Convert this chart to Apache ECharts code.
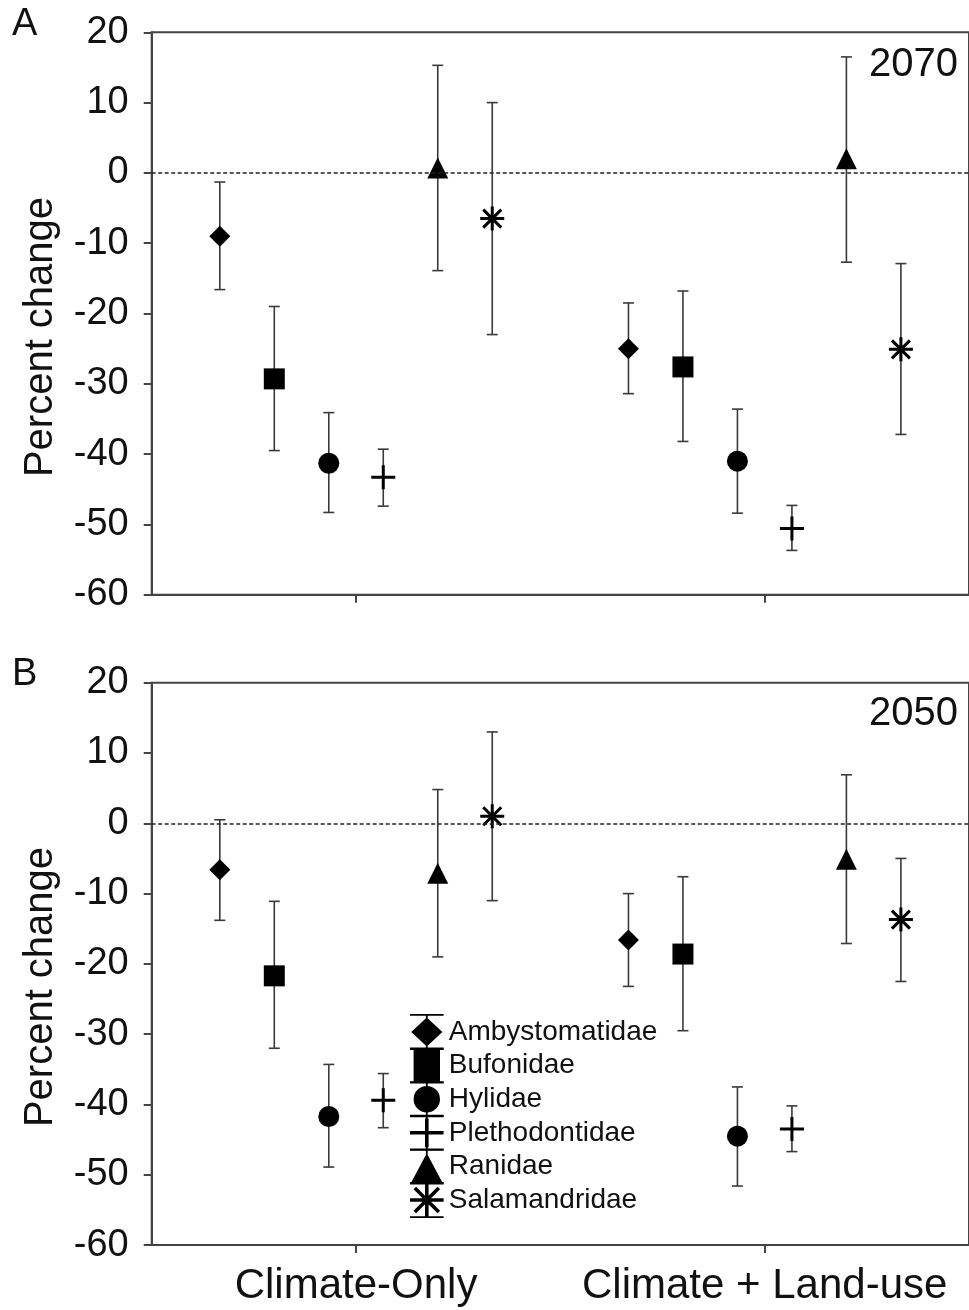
<!DOCTYPE html>
<html>
<head>
<meta charset="utf-8">
<script src="https://cdn.jsdelivr.net/npm/echarts@6/dist/echarts.min.js"></script>
<style>
  html, body { margin: 0; padding: 0; background: #fff; }
  #chart { width: 969px; height: 1310px; }
</style>
</head>
<body>
<div id="chart"></div>
<script>
// 科目与情景
const families = ['Ambystomatidae', 'Bufonidae', 'Hylidae', 'Plethodontidae', 'Ranidae', 'Salamandridae'];
const scenarios = ['Climate-Only', 'Climate + Land-use'];
const yTicks = [-60, -50, -40, -30, -20, -10, 0, 10, 20];

// 2070: [Climate-Only, Climate + Land-use] per family
const mean2070 = [[-9.0, -25.0], [-29.3, -27.6], [-41.3, -41.0], [-43.3, -50.6], [0.7, 2.0], [-6.5, -25.1]];
const low2070  = [[-16.6, -31.4], [-39.5, -38.2], [-48.3, -48.4], [-47.4, -53.7], [-13.9, -12.7], [-23.0, -37.2]];
const high2070 = [[-1.3, -18.5], [-19.0, -16.8], [-34.1, -33.6], [-39.3, -47.3], [15.3, 16.5], [10.0, -12.9]];

// 2050
const mean2050 = [[-6.6, -16.6], [-21.7, -18.6], [-41.7, -44.5], [-39.4, -43.5], [-7.1, -5.1], [1.0, -13.7]];
const low2050  = [[-13.8, -23.2], [-32.0, -29.5], [-48.9, -51.6], [-43.3, -46.7], [-19.0, -17.1], [-11.0, -22.5]];
const high2050 = [[0.5, -10.0], [-11.1, -7.6], [-34.3, -37.5], [-35.6, -40.2], [4.8, 6.9], [13.0, -5.0]];

const FONT = '"Liberation Sans", Arial, sans-serif';

/* 符号路径 (全部顺时针, 填充) */
const plusPath = 'path://M0,10.5H24V13.5H0Z M10.5,0H13.5V24H10.5Z';
const starPath = 'path://M0,10.5H24V13.5H0Z M10.5,0H13.5V24H10.5Z ' +
    'M4.06,1.94L22.06,19.94L19.94,22.06L1.94,4.06Z ' +
    'M1.94,19.94L19.94,1.94L22.06,4.06L4.06,22.06Z';
const symbols = ['diamond', 'rect', 'circle', plusPath, 'triangle', starPath];
const sizes = [21, 21, 21, 24, 21, 24];

// 图例图标 28x30, 带误差线端帽
const caps = 'M0,0H28V1.5H0Z M0,28.5H28V30H0Z M13.25,0H14.75V30H13.25Z ';
const legendIcons = [
    'path://' + caps + 'M14,3L27,15L14,27L1,15Z',
    'path://' + caps + 'M3,1.5H25V28.5H3Z',
    'path://' + caps + 'M3,15A11,11 0 1,1 25,15A11,11 0 1,1 3,15Z',
    'path://' + caps + 'M0,13.5H28V16.5H0Z M12.5,3H15.5V27H12.5Z',
    'path://' + caps + 'M14,4L27,28.5H1Z',
    'path://' + caps + 'M0,13.5H28V16.5H0Z M12.5,1H15.5V29H12.5Z ' +
        'M5.06,3.94L25.06,23.94L22.94,26.06L2.94,6.06Z ' +
        'M2.94,23.94L22.94,3.94L25.06,6.06L5.06,26.06Z'
];

// 组内偏移 (类别中心 0.5 / 1.5)
function xPos(f, s) {
    return s + 0.5 + (f - 2.5) * 2 / 15;
}

function renderErr(params, api) {
    const x = api.value(0);
    const lo = api.coord([x, api.value(1)]);
    const hi = api.coord([x, api.value(2)]);
    const w = 5.5;
    const style = { stroke: '#3a3a3a', lineWidth: 1.6 };
    return {
        type: 'group',
        children: [
            { type: 'line', shape: { x1: lo[0], y1: lo[1], x2: hi[0], y2: hi[1] }, style: style },
            { type: 'line', shape: { x1: lo[0] - w, y1: lo[1], x2: lo[0] + w, y2: lo[1] }, style: style },
            { type: 'line', shape: { x1: hi[0] - w, y1: hi[1], x2: hi[0] + w, y2: hi[1] }, style: style }
        ]
    };
}

function panelSeries(p, mean, low, high) {
    const out = [];
    const errData = [];
    families.forEach((name, f) => {
        scenarios.forEach((sc, s) => {
            errData.push([xPos(f, s), low[f][s], high[f][s]]);
        });
    });
    out.push({
        type: 'custom',
        xAxisIndex: p,
        yAxisIndex: p,
        renderItem: renderErr,
        encode: { x: 0, y: [1, 2] },
        data: errData,
        z: 2,
        silent: true,
        markLine: {
            silent: true,
            symbol: 'none',
            label: { show: false },
            lineStyle: { type: [4, 2.5], color: '#222', width: 1.5 },
            data: [{ yAxis: 0 }]
        }
    });
    families.forEach((name, f) => {
        out.push({
            name: name,
            type: 'scatter',
            xAxisIndex: p,
            yAxisIndex: p,
            symbol: symbols[f],
            symbolSize: sizes[f],
            z: 3,
            itemStyle: { color: '#000', opacity: 1 },
            data: scenarios.map((sc, s) => [xPos(f, s), mean[f][s]])
        });
    });
    return out;
}

function yAxisCfg(p) {
    return {
        type: 'value',
        gridIndex: p,
        min: -60,
        max: 20,
        interval: 10,
        axisLine: { show: true, lineStyle: { color: '#444', width: 2 } },
        axisTick: { show: true, length: 8, lineStyle: { color: '#444', width: 2 } },
        axisLabel: { fontSize: 38, color: '#111', fontFamily: FONT, margin: 23 },
        splitLine: { show: false }
    };
}

function xAxisCfg(p, showLabel) {
    return {
        type: 'value',
        gridIndex: p,
        min: 0,
        max: 2,
        axisLine: { show: true, onZero: false, lineStyle: { color: '#444', width: 2 } },
        axisTick: { show: true, length: 8, customValues: [0.5, 1.5], lineStyle: { color: '#444', width: 2 } },
        axisLabel: {
            show: showLabel,
            customValues: [0.5, 1.5],
            fontSize: 42,
            color: '#111',
            fontFamily: FONT,
            margin: 20,
            formatter: v => scenarios[Math.round(v - 0.5)]
        },
        splitLine: { show: false }
    };
}

const chart = echarts.init(document.getElementById('chart'));
const option = {
    backgroundColor: '#fff',
    animation: false,
    textStyle: { fontFamily: FONT },
    grid: [
        { left: 151.7, top: 32.3, right: -4, height: 562.4, show: true, borderColor: '#444', borderWidth: 2 },
        { left: 151.7, top: 682.7, right: -4, height: 562.4, show: true, borderColor: '#444', borderWidth: 2 }
    ],
    xAxis: [xAxisCfg(0, false), xAxisCfg(1, true)],
    yAxis: [yAxisCfg(0), yAxisCfg(1)],
    legend: {
        orient: 'vertical',
        left: 410,
        top: 1014,
        padding: 0,
        itemWidth: 34,
        itemHeight: 36,
        itemGap: -2.4,
        itemStyle: { opacity: 1 },
        textStyle: { fontSize: 28, color: '#111', fontFamily: FONT, lineHeight: 30 },
        data: families.map((name, f) => ({ name: name, icon: legendIcons[f] }))
    },
    graphic: [
        { type: 'text', left: 12, top: 6, style: { text: 'A', fontSize: 38, fill: '#111', fontFamily: FONT } },
        { type: 'text', left: 12, top: 656, style: { text: 'B', fontSize: 38, fill: '#111', fontFamily: FONT } },
        { type: 'text', x: 958, y: 65, style: { text: '2070', fontSize: 40, fill: '#111', fontFamily: FONT, align: 'right', verticalAlign: 'middle' } },
        { type: 'text', x: 958, y: 714, style: { text: '2050', fontSize: 40, fill: '#111', fontFamily: FONT, align: 'right', verticalAlign: 'middle' } },
        { type: 'text', x: 41, y: 337, rotation: Math.PI / 2, style: { text: 'Percent change', fontSize: 40, fill: '#111', fontFamily: FONT, align: 'center', verticalAlign: 'middle' } },
        { type: 'text', x: 41, y: 987, rotation: Math.PI / 2, style: { text: 'Percent change', fontSize: 40, fill: '#111', fontFamily: FONT, align: 'center', verticalAlign: 'middle' } }
    ],
    series: [].concat(
        panelSeries(0, mean2070, low2070, high2070),
        panelSeries(1, mean2050, low2050, high2050)
    )
};
chart.setOption(option);
</script>
</body>
</html>
